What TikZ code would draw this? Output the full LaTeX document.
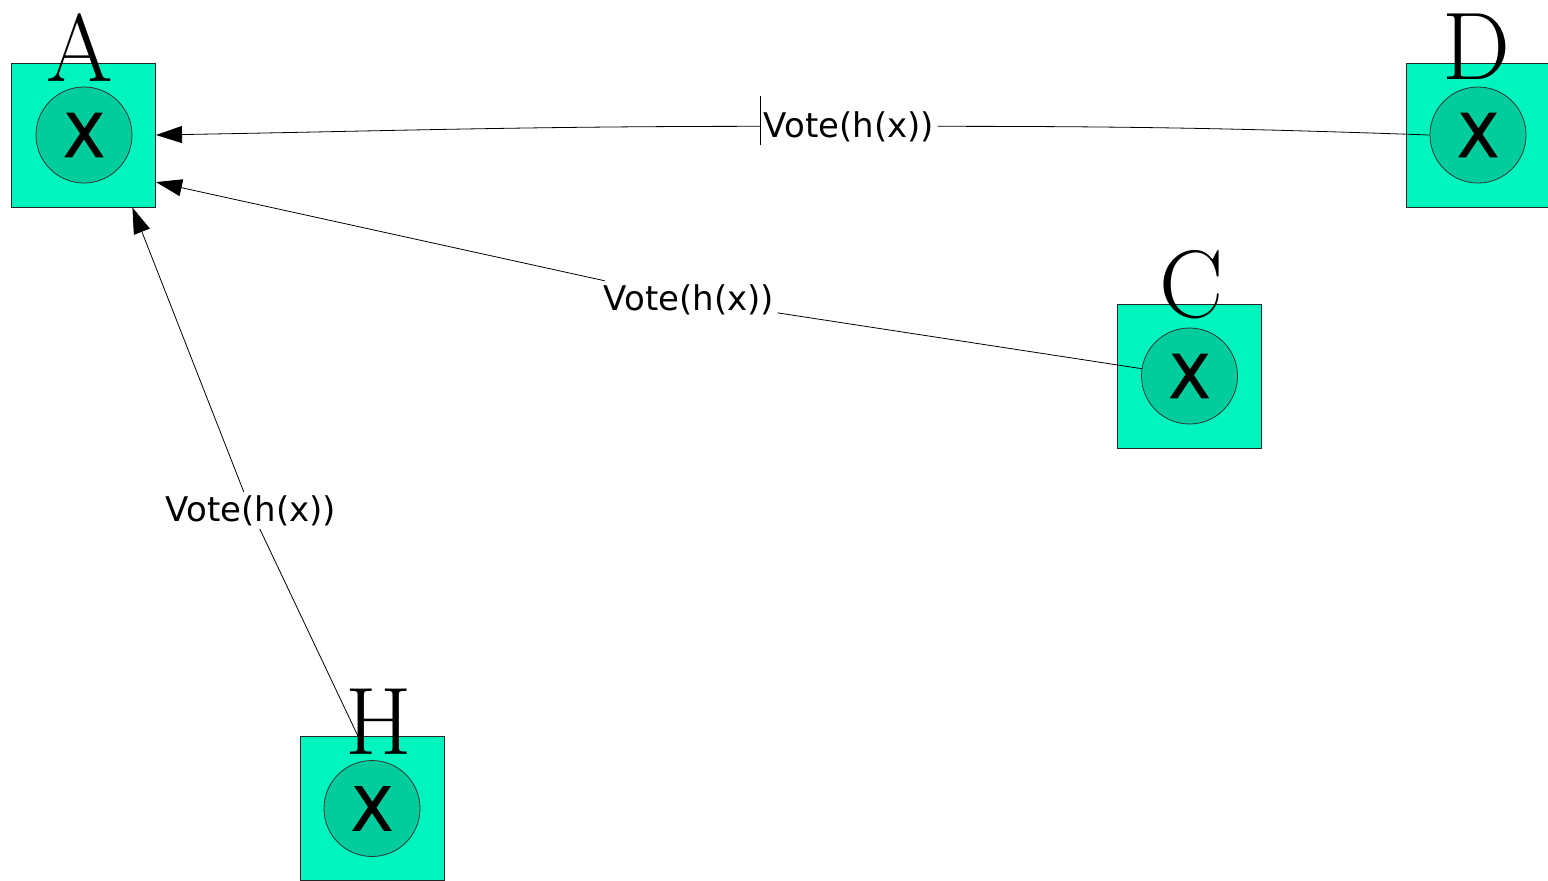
\documentclass[tikz,border=0pt]{standalone}
\usepackage{fontspec}
\setsansfont{DejaVu Sans}
\newfontfamily\cellfont[FakeBold=2]{DejaVu Sans}
\usetikzlibrary{arrows.meta}
\definecolor{cellbox}{HTML}{00F5BE}
\definecolor{cellcore}{HTML}{00CC9C}
\newcommand{\hostLetter}{\fontsize{48}{48}\selectfont}

\begin{document}
\begin{tikzpicture}[x=0.5pt,y=-0.5pt,
  host/.style={draw=black!85, line width=0.5pt, fill=cellbox, minimum size=72pt, inner sep=0pt},
  core/.style={circle, draw=black!80, line width=0.4pt, fill=cellcore, minimum size=48pt, inner sep=0pt, font=\cellfont\fontsize{30}{30}\selectfont},
  tag/.style={anchor=base, inner sep=0pt, font=\hostLetter},
  vote/.style={anchor=base, inner sep=1.5pt, font=\sffamily\fontsize{17}{20}\selectfont},
  msg/.style={line width=0.4pt},
  msgend/.style={msg, -{Triangle[length=13pt,width=8.5pt]}}]
\useasboundingbox (0,0) rectangle (1548,880);
\clip (0,0) rectangle (1548,880);

% hosts, each with its x cell
\node[host] (A) at (83.5,135) {};
\node[core] (Ac) at (84,135) {X};
\node[host] (D) at (1478,135) {};
\node[core] (Dc) at (1478,135) {X};
\node[host] (C) at (1189.5,376) {};
\node[core] (Cc) at (1189.5,376) {X};
\node[host] (H) at (372,808.5) {};
\node[core] (Hc) at (372,808.5) {X};

% votes sent to A
\node[vote] (v1) at (849,137) {Vote(h(x))};
\node[vote] (v2) at (689,310) {Vote(h(x))};
\node[vote] (v3) at (251,521) {Vote(h(x))};

\draw[msg] (Dc.west) to[out=178,in=0] (v1.east);
\draw[msgend] (v1.west) to[out=180,in=1] (A.east);
\draw[msg] ([yshift=6pt]v1.north west) -- (v1.south west);
\draw[msg] (Cc) -- (v2);
\draw[msgend] (v2) -- (A.-33);
\draw[msg] (H.101) -- (v3);
\draw[msgend] (v3) -- (A.-56);

% host names
\node[tag] (nameA) at (80,81) {A};
\node[tag] (nameD) at (1476,79) {D};
\node[tag] (nameC) at (1192,317) {C};
\node[tag] (nameH) at (379,754) {H};
\end{tikzpicture}
\end{document}
